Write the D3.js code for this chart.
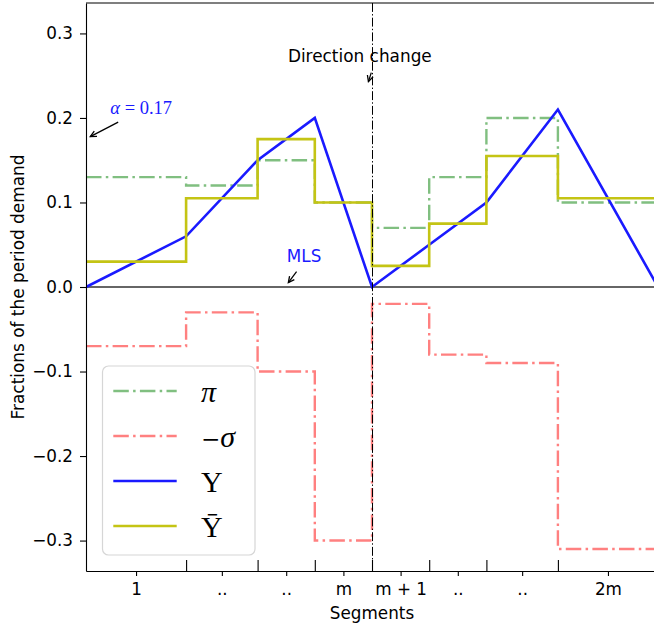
<!DOCTYPE html>
<html>
<head>
<script src="https://d3js.org/d3.v7.min.js"></script>
<style>
  body { margin: 0; background: #fff; }
  text { font-family: "DejaVu Sans", sans-serif; }
  .serif { font-family: "Liberation Serif", "DejaVu Serif", serif; }
</style>
</head>
<body>
<svg id="chart" width="654" height="628"></svg>
<script>
// segment boundaries (time units) and tick labels
const bounds = [0, 1.4, 2.4, 3.2, 4.0, 4.8, 5.6, 6.6, 8.0];
const segLabels = ["1", "..", "..", "m", "m + 1", "..", "..", "2m"];
const yTicks = [0.3, 0.2, 0.1, 0.0, -0.1, -0.2, -0.3];

// per-segment values
const piVals = [0.13, 0.12, 0.15, 0.10, 0.07, 0.13, 0.20, 0.10];
const sigmaVals = [-0.07, -0.03, -0.10, -0.30, -0.02, -0.08, -0.09, -0.31];
const upsBarVals = [0.03, 0.105, 0.175, 0.10, 0.025, 0.075, 0.155, 0.105];
// values at the boundaries
const upsVals = [0.0, 0.06, 0.15, 0.20, 0.0, 0.05, 0.10, 0.21, 0.0];

const svg = d3.select("#chart");
const mLeft = 86, mRight = 658, mTop = 3, mBottom = 571;

const x = d3.scaleLinear().domain([0, 8]).range([mLeft, mRight]);
const y = d3.scaleLinear().domain([0.336, -0.336]).range([mTop, mBottom]);

svg.append("defs").append("clipPath").attr("id", "plotClip")
  .append("rect").attr("x", mLeft).attr("y", mTop)
  .attr("width", mRight - mLeft).attr("height", mBottom - mTop);

const plot = svg.append("g").attr("clip-path", "url(#plotClip)");

// zero line
plot.append("line")
  .attr("x1", x(0)).attr("x2", x(8))
  .attr("y1", y(0)).attr("y2", y(0))
  .attr("stroke", "#333").attr("stroke-width", 1.3);

const stepLine = d3.line().x(d => x(d[0])).y(d => y(d[1])).curve(d3.curveStepAfter);
const polyLine = d3.line().x(d => x(d[0])).y(d => y(d[1]));

const stepPts = vals => bounds.map((b, i) => [b, vals[Math.min(i, vals.length - 1)]]);
const dashDot = "15.5,4.3,2.5,4.3";

const series = [
  { name: "pi", pts: stepPts(piVals), line: stepLine, color: "#80bf80", width: 2.4, dash: dashDot },
  { name: "sigma", pts: stepPts(sigmaVals), line: stepLine, color: "#ff8080", width: 2.4, dash: dashDot },
  { name: "ups", pts: bounds.map((b, i) => [b, upsVals[i]]), line: polyLine, color: "#1a1aff", width: 2.6, dash: null },
  { name: "upsbar", pts: stepPts(upsBarVals), line: stepLine, color: "#c4c414", width: 2.6, dash: null }
];

series.forEach(s => {
  plot.append("path")
    .attr("d", s.line(s.pts))
    .attr("fill", "none")
    .attr("stroke", s.color)
    .attr("stroke-width", s.width)
    .attr("stroke-dasharray", s.dash);
});

// direction change vertical line
plot.append("line")
  .attr("x1", x(bounds[4]) + 0.5).attr("x2", x(bounds[4]) + 0.5)
  .attr("y1", mTop).attr("y2", mBottom)
  .attr("stroke", "#000").attr("stroke-width", 1)
  .attr("stroke-dasharray", "8.9,2.2,1.4,2.2");

// axes
const yAxis = svg.append("g").attr("transform", `translate(${mLeft},0)`)
  .call(d3.axisLeft(y).tickValues(yTicks).tickSize(6).tickSizeOuter(0).tickPadding(7).tickFormat(d3.format(".1f")));

const xBounds = svg.append("g").attr("transform", `translate(0,${mBottom})`)
  .call(d3.axisBottom(x).tickValues(bounds.slice(1, -1)).tickSize(-11).tickSizeOuter(0).tickFormat(""));
xBounds.select(".domain").remove();

const mids = d3.range(segLabels.length).map(i => (bounds[i] + bounds[i + 1]) / 2);
const xAxis = svg.append("g").attr("transform", `translate(0,${mBottom})`)
  .call(d3.axisBottom(x).tickValues(mids).tickSize(5).tickSizeOuter(0).tickPadding(7).tickFormat((d, i) => segLabels[i]));

[yAxis, xBounds, xAxis].forEach(g => {
  g.selectAll("text").attr("font-size", 16.8).attr("font-family", "DejaVu Sans").attr("fill", "#000");
  g.selectAll("line").attr("stroke", "#000").attr("stroke-width", 1.1);
  g.selectAll(".domain").attr("stroke", "#000").attr("stroke-width", 1.1);
});

// top spine
svg.append("line").attr("x1", mLeft).attr("x2", mRight).attr("y1", mTop).attr("y2", mTop)
  .attr("stroke", "#000").attr("stroke-width", 1.1);

// axis titles
svg.append("text").attr("x", x(4)).attr("y", 619)
  .attr("text-anchor", "middle").attr("font-size", 16.8).text("Segments");
svg.append("text").attr("transform", "translate(24,287) rotate(-90)")
  .attr("text-anchor", "middle").attr("font-size", 16.9).text("Fractions of the period demand");

// annotations
function arrow(x1, y1, x2, y2) {
  const px1 = x(x1), py1 = y(y1), px2 = x(x2), py2 = y(y2);
  const a = Math.atan2(py2 - py1, px2 - px1);
  const len = 6.7, spread = 0.46;
  svg.append("line").attr("x1", px1).attr("y1", py1).attr("x2", px2).attr("y2", py2)
    .attr("stroke", "#000").attr("stroke-width", 1.3);
  const head = [[px2 - len * Math.cos(a - spread), py2 - len * Math.sin(a - spread)],
                [px2, py2],
                [px2 - len * Math.cos(a + spread), py2 - len * Math.sin(a + spread)]];
  svg.append("path").attr("d", d3.line()(head))
    .attr("fill", "none").attr("stroke", "#000").attr("stroke-width", 1.3);
}

svg.append("text").attr("x", x(3.83)).attr("y", y(0.273)).attr("dy", "0.35em")
  .attr("text-anchor", "middle").attr("font-size", 16.9).text("Direction change");
arrow(3.99, 0.2536, 3.95, 0.243);

svg.append("text").attr("x", x(3.05)).attr("y", y(0.037)).attr("dy", "0.35em")
  .attr("text-anchor", "middle").attr("font-size", 16.8).attr("fill", "#1a1aff").text("MLS");
arrow(2.945, 0.0181, 2.83, 0.0051);

const alphaText = svg.append("text").attr("class", "serif")
  .attr("x", x(0.34)).attr("y", y(0.212)).attr("dy", "0.35em")
  .attr("font-size", 18.5).attr("fill", "#1a1aff");
alphaText.append("tspan").attr("font-style", "italic").text("α");
alphaText.append("tspan").text(" = 0.17");
arrow(0.45, 0.195, 0.06, 0.178);

// legend
const legend = svg.append("g");
legend.append("rect")
  .attr("x", 102.5).attr("y", 366).attr("width", 152.5).attr("height", 189)
  .attr("rx", 6).attr("fill", "#fff").attr("fill-opacity", 0.8)
  .attr("stroke", "#d6d6d6").attr("stroke-width", 1.2);

const legendItems = [
  { s: series[0], parts: [["π", "italic", 30]] },
  { s: series[1], parts: [["−", "normal", 23], ["σ", "italic", 30]] },
  { s: series[2], parts: [["Υ", "normal", 30]] },
  { s: series[3], parts: [["Ῡ", "normal", 30]] }
];

legendItems.forEach((item, i) => {
  const ry = 391 + i * 45;
  legend.append("line")
    .attr("x1", 113.3).attr("x2", 176.7).attr("y1", ry).attr("y2", ry)
    .attr("stroke", item.s.color).attr("stroke-width", item.s.width)
    .attr("stroke-dasharray", item.s.dash);
  const t = legend.append("text").attr("class", "serif")
    .attr("x", 201).attr("y", ry + 10.7).attr("font-size", 30).attr("fill", "#000");
  item.parts.forEach(p => {
    const sp = t.append("tspan").attr("font-style", p[1]).attr("font-size", p[2]).text(p[0]);
    if (p[0] === "−") sp.attr("font-family", "DejaVu Serif");
  });
});
</script>
</body>
</html>
